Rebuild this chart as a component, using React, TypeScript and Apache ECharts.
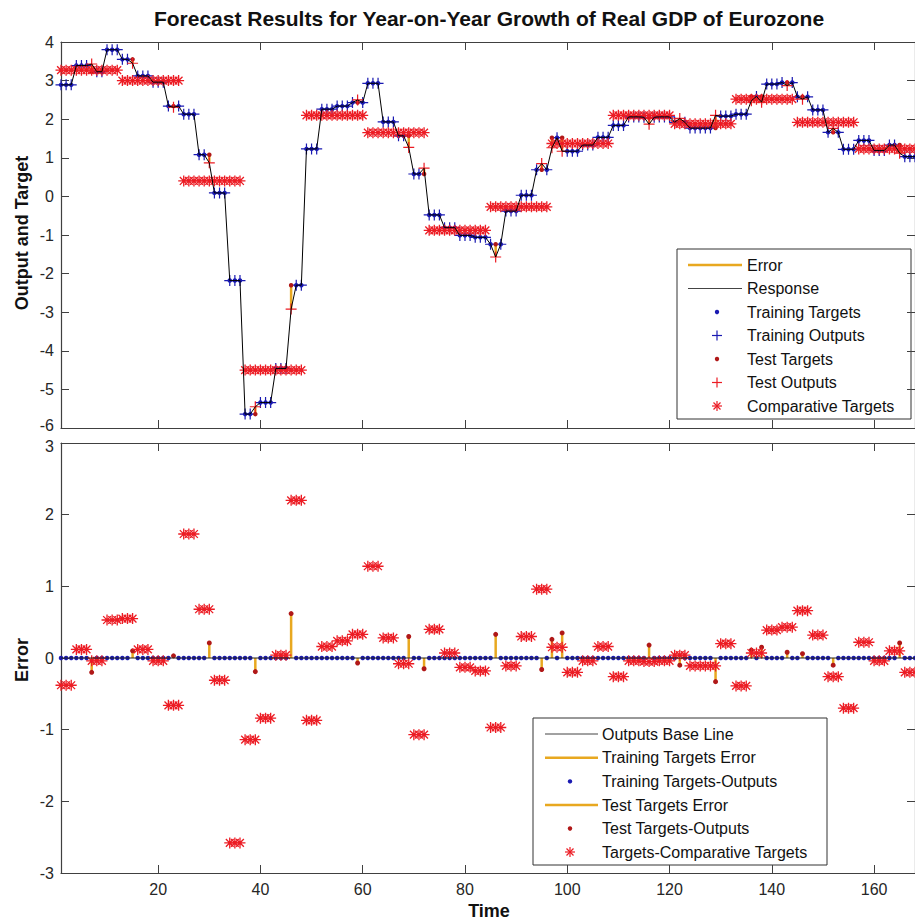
import React, { useEffect, useRef } from "react";
import * as echarts from "echarts";

// Quarterly year-on-year growth targets (each quarter spans 3 monthly time steps)
const quarterlyTargets = [
  2.89, 3.39, 3.23, 3.8, 3.55, 3.12, 2.96, 2.34, 2.13, 1.08, 0.09, -2.18,
  -5.64, -5.34, -4.46, -2.3, 1.23, 2.26, 2.34, 2.43, 2.93, 1.93, 1.57, 0.58,
  -0.48, -0.81, -1.01, -1.06, -1.24, -0.38, 0.03, 0.69, 1.52, 1.17, 1.33, 1.53,
  1.84, 2.06, 2.05, 2.06, 1.92, 1.77, 1.77, 2.08, 2.13, 2.59, 2.91, 2.95,
  2.58, 2.24, 1.66, 1.22, 1.45, 1.19, 1.33, 1.03,
];
// Annual comparative targets (each year spans 12 time steps)
const annualComparative = [3.27, 3.0, 0.4, -4.5, 2.1, 1.65, -0.88, -0.27, 1.37, 2.1, 1.88, 2.52, 1.92, 1.23];
// Test samples: time index and error (target - output)
const testX = [7, 15, 23, 30, 39, 46, 59, 69, 72, 86, 95, 97, 99, 116, 122, 129, 136, 138, 143, 146, 152, 165];
const testError = [-0.2, 0.1, 0.03, 0.21, -0.19, 0.62, -0.07, 0.3, -0.15, 0.33, -0.16, 0.26, 0.35, 0.18, -0.1, -0.33, 0.11, 0.15, 0.08, 0.06, -0.1, 0.21];
const xTickValues = [20, 40, 60, 80, 100, 120, 140, 160];
const timeMin = 1;
const timeMax = 168;

const BLUE = "#1a1ab2";
const RED = "#ec1c24";
const DARK_RED = "#b01818";
const ORANGE = "#e8a820";
const AXIS = "#404040";
const FONT = "'Liberation Sans', Arial, Helvetica, sans-serif";

function barPath(angles: number[], w: number) {
  return (
    "path://" +
    angles
      .map((a) => {
        const r = (a * Math.PI) / 180;
        const dx = Math.cos(r);
        const dy = Math.sin(r);
        const nx = -dy;
        const ny = dx;
        const pts = [
          [-dx - w * nx, -dy - w * ny],
          [dx - w * nx, dy - w * ny],
          [dx + w * nx, dy + w * ny],
          [-dx + w * nx, -dy + w * ny],
        ];
        return "M" + pts.map((p) => p[0].toFixed(3) + "," + p[1].toFixed(3)).join("L") + "Z";
      })
      .join("")
  );
}
const PLUS = barPath([0, 90], 0.11);
const STAR = barPath([0, 45, 90, 135], 0.12);

function buildGraphics() {
  const g: any[] = [];
  const txt = (x: number, y: number, text: string, extra: any = {}) =>
    g.push({
      type: "text",
      x,
      y,
      silent: true,
      style: { text, fill: "#111", font: `16px ${FONT}`, align: "left", verticalAlign: "middle", ...extra },
    });
  const hline = (x1: number, x2: number, y: number, color: string, w: number) =>
    g.push({ type: "line", silent: true, shape: { x1, y1: y, x2, y2: y }, style: { stroke: color, lineWidth: w } });
  const dot = (cx: number, cy: number, color: string) =>
    g.push({ type: "circle", silent: true, shape: { cx, cy, r: 2.2 }, style: { fill: color } });
  const plus = (cx: number, cy: number, color: string) => {
    g.push({ type: "line", silent: true, shape: { x1: cx - 5, y1: cy, x2: cx + 5, y2: cy }, style: { stroke: color, lineWidth: 1.2 } });
    g.push({ type: "line", silent: true, shape: { x1: cx, y1: cy - 5, x2: cx, y2: cy + 5 }, style: { stroke: color, lineWidth: 1.2 } });
  };
  const star = (cx: number, cy: number, color: string) => {
    plus(cx, cy, color);
    const d = 3.5;
    g.push({ type: "line", silent: true, shape: { x1: cx - d, y1: cy - d, x2: cx + d, y2: cy + d }, style: { stroke: color, lineWidth: 1.2 } });
    g.push({ type: "line", silent: true, shape: { x1: cx - d, y1: cy + d, x2: cx + d, y2: cy - d }, style: { stroke: color, lineWidth: 1.2 } });
  };

  // Title and axis names
  txt(489, 18, "Forecast Results for Year-on-Year Growth of Real GDP of Eurozone", {
    font: `bold 21px ${FONT}`,
    align: "center",
  });
  g.push({
    type: "text",
    x: 22,
    y: 233,
    rotation: Math.PI / 2,
    silent: true,
    style: { text: "Output and Target", fill: "#111", font: `bold 18px ${FONT}`, align: "center", verticalAlign: "middle" },
  });
  g.push({
    type: "text",
    x: 22,
    y: 660,
    rotation: Math.PI / 2,
    silent: true,
    style: { text: "Error", fill: "#111", font: `bold 18px ${FONT}`, align: "center", verticalAlign: "middle" },
  });
  txt(489, 911, "Time", { font: `bold 18px ${FONT}`, align: "center" });

  // Top legend
  g.push({ type: "rect", silent: true, shape: { x: 677, y: 249, width: 234, height: 170 }, style: { fill: "#fff", stroke: "#333", lineWidth: 1 } });
  const tRows = [265, 288.5, 312, 335.5, 359, 382.5, 406];
  hline(688, 742, tRows[0], ORANGE, 2.5);
  txt(747, tRows[0], "Error");
  hline(688, 742, tRows[1], "#444", 1);
  txt(747, tRows[1], "Response");
  dot(717, tRows[2], BLUE);
  txt(747, tRows[2], "Training Targets");
  plus(717, tRows[3], BLUE);
  txt(747, tRows[3], "Training Outputs");
  dot(717, tRows[4], DARK_RED);
  txt(747, tRows[4], "Test Targets");
  plus(717, tRows[5], RED);
  txt(747, tRows[5], "Test Outputs");
  star(717, tRows[6], RED);
  txt(747, tRows[6], "Comparative Targets");

  // Bottom legend
  g.push({ type: "rect", silent: true, shape: { x: 533, y: 718, width: 294, height: 147 }, style: { fill: "#fff", stroke: "#333", lineWidth: 1 } });
  const bRows = [734, 757.7, 781.4, 805, 828.5, 852];
  hline(545, 598, bRows[0], "#444", 1);
  txt(602, bRows[0], "Outputs Base Line");
  hline(545, 598, bRows[1], ORANGE, 2.5);
  txt(602, bRows[1], "Training Targets Error");
  dot(570, bRows[2], BLUE);
  txt(602, bRows[2], "Training Targets-Outputs");
  hline(545, 598, bRows[3], ORANGE, 2.5);
  txt(602, bRows[3], "Test Targets Error");
  dot(570, bRows[4], DARK_RED);
  txt(602, bRows[4], "Test Targets-Outputs");
  star(570, bRows[5], RED);
  txt(602, bRows[5], "Targets-Comparative Targets");
  return g;
}

function xAxisDef(gridIndex: number, position: string, labels: boolean) {
  return {
    gridIndex,
    type: "value",
    min: timeMin,
    max: timeMax,
    position,
    axisLine: { show: true, onZero: false, lineStyle: { color: AXIS, width: 1.2 } },
    axisTick: { show: true, inside: true, length: 8, customValues: xTickValues, lineStyle: { color: AXIS, width: 1 } },
    axisLabel: labels
      ? { show: true, customValues: xTickValues, fontSize: 16, color: "#262626", margin: 8, fontFamily: FONT }
      : { show: false },
    splitLine: { show: false },
  };
}
function yAxisDef(gridIndex: number, position: string, min: number, max: number, labels: boolean) {
  return {
    gridIndex,
    type: "value",
    min,
    max,
    interval: 1,
    position,
    axisLine: { show: true, onZero: false, lineStyle: { color: AXIS, width: 1.2 } },
    axisTick: { show: true, inside: true, length: 8, lineStyle: { color: AXIS, width: 1 } },
    axisLabel: labels
      ? {
          show: true,
          fontSize: 16,
          color: "#262626",
          margin: 7,
          fontFamily: FONT,
          // nudge the two labels that meet between the panels apart, as in the original
          formatter: (v: number) => (v === min && min === -6 ? "{lo|" + v + "}" : v === max && max === 3 ? "{hi|" + v + "}" : String(v)),
          rich: {
            lo: { fontSize: 16, color: "#262626", fontFamily: FONT, padding: [0, 0, 6, 0] },
            hi: { fontSize: 16, color: "#262626", fontFamily: FONT, padding: [6, 0, 0, 0] },
          },
        }
      : { show: false },
    splitLine: { show: false },
  };
}

function stemRender(params: any, api: any) {
  const p1 = api.coord([api.value(0), api.value(1)]);
  const p2 = api.coord([api.value(0), api.value(2)]);
  return {
    type: "line",
    shape: { x1: p1[0], y1: p1[1], x2: p2[0], y2: p2[1] },
    style: { stroke: ORANGE, lineWidth: 2.5 },
  };
}

export default function App() {
  const ref = useRef<HTMLDivElement>(null);
  useEffect(() => {
    if (!ref.current) return;
    const chart = echarts.init(ref.current, undefined, { renderer: "svg" });

    const xs = Array.from({ length: timeMax - timeMin + 1 }, (_, i) => timeMin + i);
    const targets = xs.map((x) => quarterlyTargets[Math.floor((x - 1) / 3)]);
    const comparative = xs.map((x) => annualComparative[Math.floor((x - 1) / 12)]);
    const outputs = xs.map((x, i) => {
      const k = testX.indexOf(x);
      return k >= 0 ? targets[i] - testError[k] : targets[i];
    });
    const trainX = xs.filter((x) => testX.indexOf(x) < 0);

    const scatter = (data: any[], symbol: string, size: number, color: string, xi: number) => ({
      type: "scatter",
      xAxisIndex: xi,
      yAxisIndex: xi,
      data,
      symbol,
      symbolSize: size,
      itemStyle: { color, opacity: 1 },
      silent: true,
      emphasis: { disabled: true },
    });

    const option: any = {
      animation: false,
      backgroundColor: "#ffffff",
      grid: [
        { left: 61, top: 42, width: 858, height: 386 },
        { left: 61, top: 443, width: 858, height: 430 },
      ],
      xAxis: [xAxisDef(0, "bottom", false), xAxisDef(0, "top", false), xAxisDef(1, "bottom", true), xAxisDef(1, "top", false)],
      yAxis: [yAxisDef(0, "left", -6, 4, true), yAxisDef(0, "right", -6, 4, false), yAxisDef(1, "left", -3, 3, true), yAxisDef(1, "right", -3, 3, false)],
      series: [
        {
          type: "custom",
          name: "Error",
          xAxisIndex: 0,
          yAxisIndex: 0,
          renderItem: stemRender,
          encode: { x: 0, y: [1, 2] },
          data: testX.map((x) => [x, targets[x - 1], outputs[x - 1]]),
          silent: true,
        },
        {
          type: "line",
          name: "Response",
          xAxisIndex: 0,
          yAxisIndex: 0,
          data: xs.map((x, i) => [x, outputs[i]]),
          showSymbol: false,
          lineStyle: { color: "#000", width: 1 },
          silent: true,
        },
        scatter(trainX.map((x) => [x, targets[x - 1]]), "circle", 4.5, BLUE, 0),
        scatter(trainX.map((x) => [x, outputs[x - 1]]), PLUS, 11, BLUE, 0),
        scatter(testX.map((x) => [x, targets[x - 1]]), "circle", 4.5, DARK_RED, 0),
        scatter(testX.map((x) => [x, outputs[x - 1]]), PLUS, 11, RED, 0),
        scatter(xs.map((x, i) => [x, comparative[i]]), STAR, 11, RED, 0),
        {
          type: "line",
          name: "Outputs Base Line",
          xAxisIndex: 2,
          yAxisIndex: 2,
          data: [
            [timeMin, 0],
            [timeMax, 0],
          ],
          showSymbol: false,
          lineStyle: { color: "#222", width: 1 },
          silent: true,
        },
        scatter(trainX.map((x) => [x, 0]), "circle", 4.5, BLUE, 2),
        {
          type: "custom",
          name: "Test Targets Error",
          xAxisIndex: 2,
          yAxisIndex: 2,
          renderItem: stemRender,
          encode: { x: 0, y: [1, 2] },
          data: testX.map((x, k) => [x, 0, testError[k]]),
          silent: true,
        },
        scatter(testX.map((x, k) => [x, testError[k]]), "circle", 5, DARK_RED, 2),
        scatter(xs.map((x, i) => [x, +(targets[i] - comparative[i]).toFixed(3)]), STAR, 11, RED, 2),
      ],
      graphic: buildGraphics(),
    };
    chart.setOption(option);
    return () => chart.dispose();
  }, []);
  return (
    <div
      ref={ref}
      style={{ position: "fixed", left: 0, top: 0, width: 915, height: 922, background: "#fff" }}
    />
  );
}
